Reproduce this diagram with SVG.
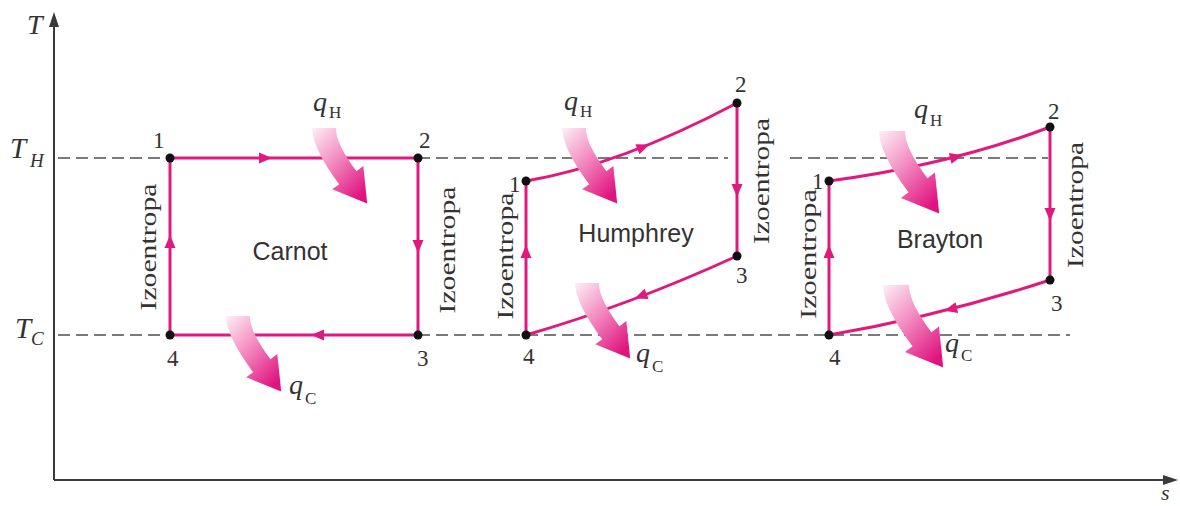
<svg xmlns="http://www.w3.org/2000/svg" xmlns:xlink="http://www.w3.org/1999/xlink" width="1180" height="506" viewBox="0 0 1180 506">
<style>
.axis{stroke:#3a3a3a;stroke-width:2;fill:none}
.dash{stroke:#7a7a7a;stroke-width:2;stroke-dasharray:12 6;fill:none}
.cyc{stroke:#e0197f;stroke-width:3;fill:none}
.ah{fill:#e0197f}
.dot{fill:#111}
.num{font-family:"Liberation Serif",serif;font-size:23px;fill:#333}
.it{font-family:"Liberation Serif",serif;font-style:italic;fill:#333}
.sub{font-family:"Liberation Serif",serif;fill:#333}
.name{font-family:"Liberation Sans",sans-serif;font-size:25px;fill:#333;text-anchor:middle}
.izo{font-family:"Liberation Serif",serif;font-size:24px;fill:#333;text-anchor:middle}
</style>
<defs>
<linearGradient id="qg" x1="0" y1="0" x2="0.75" y2="1">
<stop offset="0" stop-color="#fdf0f6"/>
<stop offset="0.45" stop-color="#f390c3"/>
<stop offset="1" stop-color="#e0147f"/>
</linearGradient>
<path id="qa" d="M-11,0 L11,0 Q11,14.7 30,40 L36.4,35.2 L40,70 L7.6,56.8 L14,52 Q-11,18.7 -11,0 Z" fill="url(#qg)"/>
<path id="tri" d="M7,0 L-6,-5.5 L-6,5.5 Z" class="ah"/>
</defs>
<rect width="1180" height="506" fill="#fff"/>

<g id="axes">
<line class="axis" x1="54" y1="480" x2="54" y2="22"/>
<polygon points="54,12 49,27 59,27" fill="#3a3a3a"/>
<line class="axis" x1="54" y1="480" x2="1168" y2="480"/>
<polygon points="1178,480 1163,475 1163,485" fill="#3a3a3a"/>
<text class="it" x="27" y="34" font-size="28">T</text>
<text class="it" x="1161" y="500" font-size="22">s</text>
<text class="it" x="10" y="158" font-size="29">T</text>
<text class="it" x="30" y="167" font-size="19">H</text>
<text class="it" x="15" y="338" font-size="29">T</text>
<text class="it" x="31" y="345" font-size="19">C</text>
</g>

<g id="isotherms">
<path class="dash" d="M58,158 H728 M790,158 H1048"/>
<path class="dash" d="M58,335 H1070"/>
</g>

<g id="carnot">
<path class="cyc" d="M170,158 H418 V335 H170 Z"/>
<use xlink:href="#tri" href="#tri" transform="translate(265,158)"/>
<use xlink:href="#tri" href="#tri" transform="translate(418,246) rotate(90)"/>
<use xlink:href="#tri" href="#tri" transform="translate(318,335) rotate(180)"/>
<use xlink:href="#tri" href="#tri" transform="translate(170,242) rotate(-90)"/>
<circle class="dot" cx="170" cy="158" r="4.5"/>
<circle class="dot" cx="418" cy="158" r="4.5"/>
<circle class="dot" cx="418" cy="335" r="4.5"/>
<circle class="dot" cx="170" cy="335" r="4.5"/>
<text class="num" x="153" y="148">1</text>
<text class="num" x="419" y="148">2</text>
<text class="num" x="417" y="366">3</text>
<text class="num" x="167" y="366">4</text>
<text class="name" x="290" y="260">Carnot</text>
<text class="izo" transform="translate(156,247) rotate(-90)" textLength="127" lengthAdjust="spacingAndGlyphs">Izoentropa</text>
<text class="izo" transform="translate(455,250) rotate(-90)" textLength="127" lengthAdjust="spacingAndGlyphs">Izoentropa</text>
<use xlink:href="#qa" href="#qa" transform="translate(324,128) scale(1.08)"/>
<use xlink:href="#qa" href="#qa" transform="translate(238,316) scale(1.08)"/>
<text class="it" x="313" y="111" font-size="28">q</text>
<text class="sub" x="329" y="118" font-size="17">H</text>
<text class="it" x="289" y="394" font-size="28">q</text>
<text class="sub" x="305" y="404" font-size="17">C</text>
</g>

<g id="humphrey">
<path class="cyc" d="M526,181 Q620,165 737,103 V256 Q630,305 526,335 Z"/>
<use xlink:href="#tri" href="#tri" transform="translate(643,147) rotate(-22)"/>
<use xlink:href="#tri" href="#tri" transform="translate(737,190) rotate(90)"/>
<use xlink:href="#tri" href="#tri" transform="translate(641,296) rotate(159)"/>
<use xlink:href="#tri" href="#tri" transform="translate(526,252) rotate(-90)"/>
<circle class="dot" cx="526" cy="181" r="4.5"/>
<circle class="dot" cx="737" cy="103" r="4.5"/>
<circle class="dot" cx="737" cy="256" r="4.5"/>
<circle class="dot" cx="526" cy="335" r="4.5"/>
<text class="num" x="509" y="192">1</text>
<text class="num" x="735" y="92">2</text>
<text class="num" x="736" y="283">3</text>
<text class="num" x="523" y="364">4</text>
<text class="name" x="636" y="242">Humphrey</text>
<text class="izo" transform="translate(513,256) rotate(-90)" textLength="127" lengthAdjust="spacingAndGlyphs">Izoentropa</text>
<text class="izo" transform="translate(769,181) rotate(-90)" textLength="126" lengthAdjust="spacingAndGlyphs">Izoentropa</text>
<use xlink:href="#qa" href="#qa" transform="translate(574,128) scale(1.08)"/>
<use xlink:href="#qa" href="#qa" transform="translate(587,283) scale(1.08)"/>
<text class="it" x="564" y="110" font-size="28">q</text>
<text class="sub" x="580" y="117" font-size="17">H</text>
<text class="it" x="636" y="362" font-size="28">q</text>
<text class="sub" x="652" y="372" font-size="17">C</text>
</g>

<g id="brayton">
<path class="cyc" d="M829,181 Q950,165 1050,127 V280 Q940,316 829,335 Z"/>
<use xlink:href="#tri" href="#tri" transform="translate(956,157) rotate(-14)"/>
<use xlink:href="#tri" href="#tri" transform="translate(1050,214) rotate(90)"/>
<use xlink:href="#tri" href="#tri" transform="translate(951,309) rotate(166)"/>
<use xlink:href="#tri" href="#tri" transform="translate(829,252) rotate(-90)"/>
<circle class="dot" cx="829" cy="181" r="4.5"/>
<circle class="dot" cx="1050" cy="127" r="4.5"/>
<circle class="dot" cx="1050" cy="280" r="4.5"/>
<circle class="dot" cx="829" cy="335" r="4.5"/>
<text class="num" x="812" y="189">1</text>
<text class="num" x="1048" y="119">2</text>
<text class="num" x="1051" y="311">3</text>
<text class="num" x="829" y="365">4</text>
<text class="name" x="940" y="248">Brayton</text>
<text class="izo" transform="translate(816,254) rotate(-90)" textLength="130" lengthAdjust="spacingAndGlyphs">Izoentropa</text>
<text class="izo" transform="translate(1083,205) rotate(-90)" textLength="126" lengthAdjust="spacingAndGlyphs">Izoentropa</text>
<use xlink:href="#qa" href="#qa" transform="translate(892,131) scale(1.18)"/>
<use xlink:href="#qa" href="#qa" transform="translate(896,285) scale(1.18)"/>
<text class="it" x="914" y="118" font-size="28">q</text>
<text class="sub" x="930" y="126" font-size="17">H</text>
<text class="it" x="945" y="352" font-size="28">q</text>
<text class="sub" x="961" y="361" font-size="17">C</text>
</g>
</svg>
